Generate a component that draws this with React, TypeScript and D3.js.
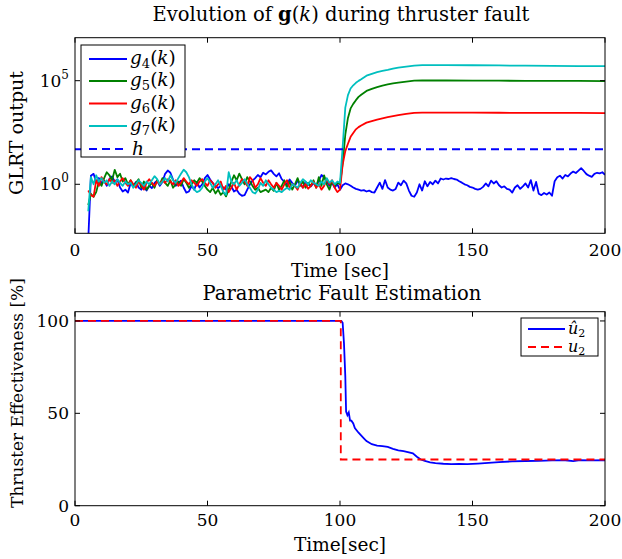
import * as d3 from 'd3'

// sample grid (seconds) for the noisy pre-fault part and for g4 after the fault
const tPre = d3.range(5, 101)
const tPost = d3.range(101, 201)

const g4Pre = [
  0.002, 2.6, 3.2, 1.3, 2.0, 1.15, 1.5, 0.85, 1.8, 2.4, 1.3, 1.7, 0.7, 0.45, 0.55, 0.4,
  1.15, 0.85, 1.3, 0.7, 0.55, 0.78, 0.5, 0.85, 0.65, 1.15, 1.5, 0.85, 1.3, 3.2, 4.6, 3.6,
  1.7, 0.85, 1.15, 1.5, 0.7, 0.4, 0.45, 0.85, 0.55, 1.3, 0.7, 1.0, 2.0, 2.8, 1.7, 1.15,
  0.85, 0.65, 0.85, 0.7, 0.55, 1.0, 0.78, 0.45, 0.55, 0.35, 0.28, 0.3, 0.55, 1.0, 1.5, 2.0,
  2.8, 2.2, 3.6, 3.0, 4.0, 4.7, 3.2, 2.4, 3.4, 1.8, 1.3, 1.0, 1.7, 1.15, 0.85, 1.5,
  1.0, 0.7, 1.3, 1.0, 0.78, 1.15, 0.85, 1.5, 2.8, 2.2, 1.3, 0.85, 1.15, 0.7, 1.0, 0.55,
]
const g4Post = [
  0.9, 1.1, 1.0, 0.85, 0.7, 0.6, 0.55, 0.5, 0.52, 0.45, 0.5, 0.42, 0.4, 0.7, 1.2, 0.6,
  1.6, 0.7, 0.55, 0.5, 0.6, 1.2, 0.9, 1.5, 1.1, 0.5, 0.28, 0.25, 0.4, 1.0, 0.5, 1.4,
  0.8, 1.3, 1.0, 1.5, 1.1, 1.9, 1.7, 1.9, 1.8, 2.0, 1.8, 1.7, 1.4, 1.2, 1.0, 0.9,
  0.75, 0.7, 0.6, 0.55, 0.6, 0.75, 1.1, 0.8, 1.5, 1.1, 1.4, 0.9, 0.7, 0.8, 0.6, 0.55,
  0.4, 0.7, 0.9, 0.6, 0.8, 1.1, 0.7, 1.6, 0.5, 1.3, 0.35, 0.3, 0.38, 0.32, 0.4, 0.28,
  1.4, 2.2, 2.6, 1.9, 2.8, 2.4, 3.3, 4.1, 3.5, 4.6, 6.0, 4.4, 3.1, 2.6, 2.3, 3.2,
  3.6, 3.4, 3.8, 2.9,
]
const g5Pre = [
  0.1, 0.35, 0.25, 0.42, 1.36, 0.84, 1.99, 3.82, 2.72, 1.56, 5.0, 2.22, 3.25, 1.36, 1.99, 1.0,
  1.56, 0.84, 1.18, 1.77, 0.68, 1.36, 0.55, 0.84, 1.18, 0.68, 1.56, 1.0, 1.99, 1.18, 0.84, 1.56,
  0.68, 1.0, 1.36, 0.84, 1.77, 1.18, 0.68, 1.0, 1.56, 1.18, 1.99, 1.36, 0.84, 0.55, 0.42, 0.68,
  0.36, 0.55, 0.31, 0.42, 0.26, 0.55, 1.36, 2.72, 1.56, 3.25, 1.77, 1.0, 2.22, 1.36, 0.84, 0.55,
  0.68, 0.42, 0.48, 0.55, 0.42, 0.68, 0.48, 1.18, 0.55, 0.84, 1.56, 0.68, 1.36, 0.55, 1.0, 1.99,
  0.84, 1.36, 0.68, 1.18, 0.84, 1.56, 0.68, 2.22, 0.84, 2.72, 1.0, 0.55, 1.36, 0.84, 1.18, 1.0,
]
const g6Pre = [
  0.5, 0.3, 0.25, 1.56, 0.84, 2.22, 1.36, 1.0, 1.77, 1.18, 1.56, 0.84, 1.36, 1.99, 1.18, 0.84,
  1.56, 1.0, 0.68, 1.36, 1.0, 0.55, 1.18, 1.77, 1.18, 0.84, 1.36, 1.0, 1.56, 1.18, 1.77, 1.36,
  1.0, 1.56, 0.84, 1.18, 1.99, 1.36, 1.0, 1.56, 1.18, 0.84, 1.36, 1.77, 1.18, 0.84, 1.56, 1.18,
  0.68, 1.0, 1.36, 0.55, 0.84, 0.42, 0.68, 1.18, 0.55, 1.0, 1.77, 1.36, 0.84, 2.22, 1.56, 0.68,
  1.0, 1.99, 1.18, 0.84, 1.56, 1.0, 0.68, 1.18, 0.84, 0.55, 1.0, 1.56, 0.68, 1.0, 0.84, 0.55,
  1.18, 0.68, 1.0, 0.61, 0.84, 1.36, 0.68, 1.0, 0.55, 0.84, 1.77, 1.0, 1.56, 0.68, 0.42, 0.55,
]
const g7Pre = [
  0.05, 2.22, 1.0, 2.72, 1.36, 1.99, 1.18, 1.56, 0.84, 1.36, 1.0, 1.77, 1.18, 0.84, 1.36, 1.0,
  1.18, 0.68, 1.0, 1.56, 1.18, 0.84, 1.36, 1.0, 1.56, 2.46, 1.77, 1.0, 1.36, 1.99, 1.36, 2.72,
  1.56, 1.18, 1.99, 3.25, 5.1, 3.82, 2.22, 1.0, 0.55, 0.42, 0.48, 0.68, 1.36, 1.99, 1.18, 0.68,
  1.0, 1.56, 0.84, 0.42, 0.31, 3.82, 1.36, 1.0, 1.56, 0.84, 1.18, 1.77, 1.0, 0.68, 0.42, 0.36,
  0.55, 1.18, 0.84, 1.56, 1.0, 0.68, 0.55, 0.42, 0.48, 0.42, 0.55, 0.68, 0.55, 1.0, 0.84, 0.68,
  1.18, 1.77, 1.36, 1.0, 1.56, 1.18, 1.0, 0.84, 1.36, 1.0, 1.99, 1.18, 1.56, 1.0, 1.36, 1.18,
]

// after the fault g5..g7 rise smoothly
const tRise = [101, 102, 103, 104, 105, 106, 107, 108, 110, 112, 114, 116, 118, 120, 122, 125, 128, 131, 140, 150, 160, 170, 180, 190, 200]
const g5Rise = [10, 250, 1600, 4600, 7600, 11500, 16600, 21000, 32000, 40000, 49000, 58000, 66000, 74000, 81000, 91000, 100000, 102000, 102000, 101000, 100000, 99000, 98000, 97000, 95500]
const g6Rise = [9, 40, 90, 195, 300, 450, 575, 690, 950, 1120, 1320, 1510, 1740, 1950, 2190, 2510, 2820, 2880, 2880, 2850, 2830, 2810, 2790, 2770, 2750]
const g7Rise = [63, 5000, 20000, 42000, 60000, 79000, 98000, 117000, 174000, 214000, 257000, 295000, 331000, 380000, 427000, 479000, 537000, 562000, 562000, 556000, 543000, 531000, 519000, 507000, 501000]
const threshold = 49

const tUhat = [0, 100.5, 101, 101.5, 102, 102.3, 102.8, 103.3, 103.8, 104.3, 105, 105.6, 107, 109, 110, 112, 114, 116, 118, 120, 122, 124, 126, 127.5, 129, 130.5, 132, 134, 136, 139, 142, 145, 148, 152, 156, 160, 165, 170, 175, 180, 185, 188, 190, 195, 200]
const uHat = [100, 100, 99, 88, 70, 51, 49, 50.5, 46, 46, 44.5, 42, 39.5, 36.5, 35, 33.3, 32.5, 32.3, 31.8, 30.8, 30, 29.5, 28.8, 28.3, 26.5, 25, 24.2, 23.5, 23, 22.7, 22.5, 22.6, 22.5, 22.8, 23.2, 23.6, 24, 24.2, 24.3, 24.5, 24.6, 24.1, 24.6, 24.5, 24.6]
const tU = [0, 100.3, 100.3, 200]
const uTrue = [100, 100, 25, 25]

const xTicks = [0, 50, 100, 150, 200]
const logTicks = [1, 1e5]
const logTickExp = ['0', '5']
const pctTicks = [0, 50, 100]

const FONT = 'DejaVu Serif'
const BLUE = '#0000ff'
const GREEN = '#008000'
const RED = '#ff0000'
const CYAN = '#00bfbf'

type P = [number, number]
const zip = (t: number[], v: number[]): P[] => t.map((d, i) => [d, v[i]])

export default function App() {
  const W = 622
  const H = 559
  const left = 75
  const right = 605
  const top1 = 37.7
  const bot1 = 233.3
  const top2 = 311.7
  const bot2 = 505.7
  const tick = 5
  const tickFs = 17
  const labFs = 19
  const lw = 1.8

  const x = d3.scaleLinear().domain([0, 200]).range([left, right])
  const y1 = d3.scaleLog().domain([Math.pow(10, -2.365), Math.pow(10, 7.075)]).range([bot1, top1])
  const y2 = d3.scaleLinear().domain([0, 105]).range([bot2, top2])

  const line1 = d3.line<P>().x(d => x(d[0])).y(d => y1(d[1]))
  const line2 = d3.line<P>().x(d => x(d[0])).y(d => y2(d[1]))

  const g4 = zip(tPre, g4Pre).concat(zip(tPost, g4Post))
  const g5 = zip(tPre, g5Pre).concat(zip(tRise, g5Rise))
  const g6 = zip(tPre, g6Pre).concat(zip(tRise, g6Rise))
  const g7 = zip(tPre, g7Pre).concat(zip(tRise, g7Rise))

  const series = [
    { d: g4, c: BLUE, sub: '4' },
    { d: g5, c: GREEN, sub: '5' },
    { d: g6, c: RED, sub: '6' },
    { d: g7, c: CYAN, sub: '7' },
  ]

  const legendRows = [59, 81, 103.5, 126, 149]

  return (
    <svg width={W} height={H} style={{ position: 'absolute', left: 0, top: 0, background: '#fff' }} fontFamily={FONT}>
      <defs>
        <clipPath id="c1"><rect x={left} y={top1} width={right - left} height={bot1 - top1} /></clipPath>
        <clipPath id="c2"><rect x={left} y={top2} width={right - left} height={bot2 - top2} /></clipPath>
      </defs>

      {/* ---- top panel ---- */}
      <text x={341} y={21} textAnchor="middle" fontSize={19.5}>
        Evolution of <tspan fontWeight="bold">g</tspan>(<tspan fontStyle="italic">k</tspan>) during thruster fault
      </text>
      <g clipPath="url(#c1)" fill="none" strokeWidth={lw} strokeLinejoin="round">
        {series.map(s => <path key={s.sub} d={line1(s.d) || ''} stroke={s.c} />)}
        <line x1={left} x2={right} y1={y1(threshold)} y2={y1(threshold)} stroke={BLUE} strokeDasharray="8,5" />
      </g>
      <rect x={left} y={top1} width={right - left} height={bot1 - top1} fill="none" stroke="#000" />
      {xTicks.map(t => (
        <g key={'xt1' + t}>
          <line x1={x(t)} x2={x(t)} y1={bot1} y2={bot1 - tick} stroke="#000" />
          <line x1={x(t)} x2={x(t)} y1={top1} y2={top1 + tick} stroke="#000" />
          <text x={x(t)} y={256} textAnchor="middle" fontSize={tickFs}>{t}</text>
        </g>
      ))}
      {logTicks.map((t, i) => (
        <g key={'yt1' + t}>
          <line x1={left} x2={left + tick} y1={y1(t)} y2={y1(t)} stroke="#000" />
          <line x1={right} x2={right - tick} y1={y1(t)} y2={y1(t)} stroke="#000" />
          <text x={69} y={y1(t) + 6} textAnchor="end" fontSize={tickFs}>
            10<tspan dy={-8} fontSize={12}>{logTickExp[i]}</tspan>
          </text>
        </g>
      ))}
      <text x={340} y={277} textAnchor="middle" fontSize={18.5}>Time [sec]</text>
      <text transform={`translate(23,133) rotate(-90)`} textAnchor="middle" fontSize={labFs}>GLRT output</text>

      <rect x={81} y={45} width={104} height={112} fill="#fff" stroke="#000" />
      {series.map((s, i) => (
        <g key={'lg' + s.sub}>
          <line x1={89} x2={127} y1={legendRows[i]} y2={legendRows[i]} stroke={s.c} strokeWidth={lw} />
          <text x={130} y={legendRows[i] + 5} fontSize={18.5}>
            <tspan fontStyle="italic">g</tspan>
            <tspan fontSize={13} dy={4}>{s.sub}</tspan>
            <tspan dy={-4}>(</tspan>
            <tspan fontStyle="italic">k</tspan>)
          </text>
        </g>
      ))}
      <line x1={89} x2={127} y1={legendRows[4]} y2={legendRows[4]} stroke={BLUE} strokeWidth={lw} strokeDasharray="8,5" />
      <text x={132} y={legendRows[4] + 6} fontSize={18.5} fontStyle="italic">h</text>

      {/* ---- bottom panel ---- */}
      <text x={342} y={300} textAnchor="middle" fontSize={19.5}>Parametric Fault Estimation</text>
      <g clipPath="url(#c2)" fill="none" strokeWidth={lw}>
        <path d={line2(zip(tUhat, uHat)) || ''} stroke={BLUE} />
        <path d={line2(zip(tU, uTrue)) || ''} stroke={RED} strokeDasharray="8,5" />
      </g>
      <rect x={left} y={top2} width={right - left} height={bot2 - top2} fill="none" stroke="#000" />
      {xTicks.map(t => (
        <g key={'xt2' + t}>
          <line x1={x(t)} x2={x(t)} y1={bot2} y2={bot2 - tick} stroke="#000" />
          <line x1={x(t)} x2={x(t)} y1={top2} y2={top2 + tick} stroke="#000" />
          <text x={x(t)} y={526} textAnchor="middle" fontSize={tickFs}>{t}</text>
        </g>
      ))}
      {pctTicks.map(t => (
        <g key={'yt2' + t}>
          <line x1={left} x2={left + tick} y1={y2(t)} y2={y2(t)} stroke="#000" />
          <line x1={right} x2={right - tick} y1={y2(t)} y2={y2(t)} stroke="#000" />
          <text x={69} y={y2(t) + 6} textAnchor="end" fontSize={tickFs}>{t}</text>
        </g>
      ))}
      <text x={340} y={551} textAnchor="middle" fontSize={18.5}>Time[sec]</text>
      <text transform={`translate(23,393) rotate(-90)`} textAnchor="middle" fontSize={17}>Thruster Effectiveness [%]</text>

      <rect x={521} y={318} width={77} height={38} fill="#fff" stroke="#000" />
      <line x1={528} x2={565} y1={329} y2={329} stroke={BLUE} strokeWidth={lw} />
      <text x={568} y={334} fontSize={16}>
        <tspan fontStyle="italic">û</tspan><tspan fontSize={11} dy={3}>2</tspan>
      </text>
      <line x1={528} x2={565} y1={347} y2={347} stroke={RED} strokeWidth={lw} strokeDasharray="8,5" />
      <text x={568} y={352} fontSize={16}>
        <tspan fontStyle="italic">u</tspan><tspan fontSize={11} dy={3}>2</tspan>
      </text>
    </svg>
  )
}
